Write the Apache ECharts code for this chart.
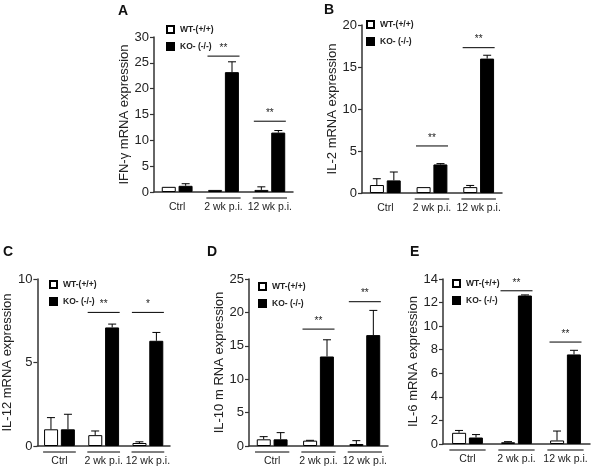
<!DOCTYPE html>
<html><head><meta charset="utf-8">
<script src="https://cdn.jsdelivr.net/npm/echarts@6/dist/echarts.min.js"></script>
<style>html,body{margin:0;padding:0;background:#fff}#c{width:600px;height:471px}</style>
</head><body><div id="c"></div>
<script>
// ---------- data ----------
const categories = ['Ctrl', '2 wk p.i.', '12 wk p.i.'];
const seriesNames = ['WT-(+/+)', 'KO- (-/-)'];
const panelLetters = ['A', 'B', 'C', 'D', 'E'];
const yTitles = ['IFN-γ mRNA expression', 'IL-2 mRNA expression', 'IL-12 mRNA expression', 'IL-10 m RNA expression', 'IL-6 mRNA expression'];
const yMax = [30, 20, 10, 25, 14];
const yInterval = [5, 5, 5, 5, 2];

const wtA = [1.0, 0.4, 0.4];   const wtErrA = [1.0, 0.4, 1.0];
const koA = [1.2, 23.2, 11.5]; const koErrA = [1.6, 25.2, 11.9];
const sigA = [[1, 26.3, '**'], [2, 13.7, '**']];
const groupLineA = [false, true, true];

const wtB = [0.95, 0.7, 0.7];  const wtErrB = [1.7, 0.7, 0.9];
const koB = [1.5, 3.4, 16.0];  const koErrB = [2.5, 3.5, 16.4];
const sigB = [[1, 5.6, '**'], [2, 17.3, '**']];
const groupLineB = [false, true, true];

const wtC = [1.0, 0.65, 0.18]; const wtErrC = [1.7, 0.9, 0.25];
const koC = [1.0, 7.1, 6.3];   const koErrC = [1.9, 7.3, 6.8];
const sigC = [[1, 8.0, '**'], [2, 8.0, '*']];
const groupLineC = [true, true, true];

const wtD = [1.0, 0.8, 0.3];   const wtErrD = [1.4, 0.85, 0.8];
const koD = [1.0, 13.4, 16.6]; const koErrD = [2.0, 15.9, 20.3];
const sigD = [[1, 17.5, '**'], [2, 21.6, '**']];
const groupLineD = [true, true, true];

const wtE = [0.95, 0.15, 0.3]; const wtErrE = [1.15, 0.2, 1.1];
const koE = [0.55, 12.6, 7.6]; const koErrE = [0.8, 12.65, 7.95];
const sigE = [[1, 13.0, '**'], [2, 8.65, '**']];
const groupLineE = [true, true, true];

const panels = [
  { wt: wtA, wtErr: wtErrA, ko: koA, koErr: koErrA, sig: sigA, gl: groupLineA },
  { wt: wtB, wtErr: wtErrB, ko: koB, koErr: koErrB, sig: sigB, gl: groupLineB },
  { wt: wtC, wtErr: wtErrC, ko: koC, koErr: koErrC, sig: sigC, gl: groupLineC },
  { wt: wtD, wtErr: wtErrD, ko: koD, koErr: koErrD, sig: sigD, gl: groupLineD },
  { wt: wtE, wtErr: wtErrE, ko: koE, koErr: koErrE, sig: sigE, gl: groupLineE }
];

// ---------- layout ----------
const grids = [
  { left: 154, top: 37, width: 139, height: 155 },
  { left: 362, top: 25, width: 140, height: 168 },
  { left: 33, top: 279, width: 137, height: 167 },
  { left: 249, top: 279, width: 139, height: 167 },
  { left: 443, top: 279, width: 147, height: 165 }
];
const nameGaps = [21, 12, 12, 23, 23];
const legendPos = [[166, 25], [366, 20], [49, 280], [258, 282], [452, 279]];
const letterPos = [[123, 12], [329, 11], [8, 253], [212, 253], [415, 253]];

const FONT = '"Liberation Sans", Arial, sans-serif';
const TXT = '#222';
const AX = '#333';
const BAR_W = 14, HALF = 8.5;

const option = {
  animation: false,
  textStyle: { fontFamily: FONT },
  grid: grids.map(g => Object.assign({ containLabel: false }, g)),
  legend: legendPos.map(p => ({
    left: p[0], top: p[1], orient: 'vertical', padding: 0,
    itemWidth: 7, itemHeight: 7, itemGap: 8, icon: 'rect',
    selectedMode: false,
    data: seriesNames,
    textStyle: { fontSize: 8.5, fontWeight: 'bold', color: TXT, fontFamily: FONT, padding: [0, 0, 0, 1] }
  })),
  xAxis: grids.map((g, i) => ({
    type: 'category', gridIndex: i, data: categories,
    axisLine: { lineStyle: { color: AX, width: 1.5 } },
    axisTick: { show: false },
    axisLabel: { fontSize: 10.5, color: TXT, margin: 10, interval: 0 }
  })),
  yAxis: grids.map((g, i) => ({
    type: 'value', gridIndex: i, min: 0, max: yMax[i], interval: yInterval[i],
    name: yTitles[i], nameLocation: 'middle', nameGap: nameGaps[i],
    nameTextStyle: { fontSize: 13, color: TXT, fontFamily: FONT },
    axisLine: { show: true, lineStyle: { color: AX, width: 1.5 } },
    axisTick: { show: true, length: 4, lineStyle: { color: AX, width: 1.2 } },
    splitLine: { show: false },
    axisLabel: { fontSize: 13, color: TXT, margin: 5 }
  })),
  graphic: letterPos.map((p, i) => ({
    type: 'text', left: p[0] - 5, top: p[1] - 8,
    style: { text: panelLetters[i], font: 'bold 14px ' + FONT, fill: '#111' }
  })),
  series: []
};

panels.forEach((pd, i) => {
  option.series.push({
    name: seriesNames[0], type: 'bar', xAxisIndex: i, yAxisIndex: i,
    data: pd.wt, barWidth: BAR_W, barGap: '20%',
    itemStyle: { color: '#fff', borderColor: '#000', borderWidth: 1 }
  });
  option.series.push({
    name: seriesNames[1], type: 'bar', xAxisIndex: i, yAxisIndex: i,
    data: pd.ko, barWidth: BAR_W, barGap: '20%',
    itemStyle: { color: '#000', borderColor: '#000', borderWidth: 1 }
  });
  const errData = [];
  categories.forEach((c, k) => {
    errData.push([k, pd.wt[k], pd.wtErr[k], -1]);
    errData.push([k, pd.ko[k], pd.koErr[k], 1]);
  });
  option.series.push({
    type: 'custom', xAxisIndex: i, yAxisIndex: i, data: errData, z: 5, silent: true,
    renderItem: (params, api) => {
      const cat = api.value(0), v = api.value(1), e = api.value(2), side = api.value(3);
      if (e <= v) return null;
      const p0 = api.coord([cat, v]);
      const p1 = api.coord([cat, e]);
      const x = p0[0] + side * HALF;
      return { type: 'group', children: [
        { type: 'line', shape: { x1: x, y1: p0[1], x2: x, y2: p1[1] }, style: { stroke: '#000', lineWidth: 1 } },
        { type: 'line', shape: { x1: x - 4, y1: p1[1], x2: x + 4, y2: p1[1] }, style: { stroke: '#000', lineWidth: 1 } }
      ]};
    }
  });
  option.series.push({
    type: 'custom', xAxisIndex: i, yAxisIndex: i, data: pd.sig, z: 5, silent: true,
    renderItem: (params, api) => {
      const p = api.coord([api.value(0), api.value(1)]);
      const txt = pd.sig[params.dataIndex][2];
      return { type: 'group', children: [
        { type: 'line', shape: { x1: p[0] - 16, y1: p[1], x2: p[0] + 16, y2: p[1] }, style: { stroke: '#000', lineWidth: 1 } },
        { type: 'text', x: p[0], y: p[1] - 3, style: { text: txt, textAlign: 'center', textVerticalAlign: 'bottom', font: '10px ' + FONT, fill: '#222' } }
      ]};
    }
  });
  const gl = [];
  pd.gl.forEach((f, k) => { if (f) gl.push([k, 0]); });
  option.series.push({
    type: 'custom', xAxisIndex: i, yAxisIndex: i, data: gl, z: 5, silent: true, clip: false,
    renderItem: (params, api) => {
      const p = api.coord([api.value(0), 0]);
      const bw = api.size([1, 0])[0];
      return { type: 'line', shape: { x1: p[0] - bw * 0.37, y1: p[1] + 6, x2: p[0] + bw * 0.37, y2: p[1] + 6 }, style: { stroke: '#000', lineWidth: 1 } };
    }
  });
});

const chart = echarts.init(document.getElementById('c'), null, { renderer: 'canvas' });
chart.setOption(option);
</script>
</body></html>
